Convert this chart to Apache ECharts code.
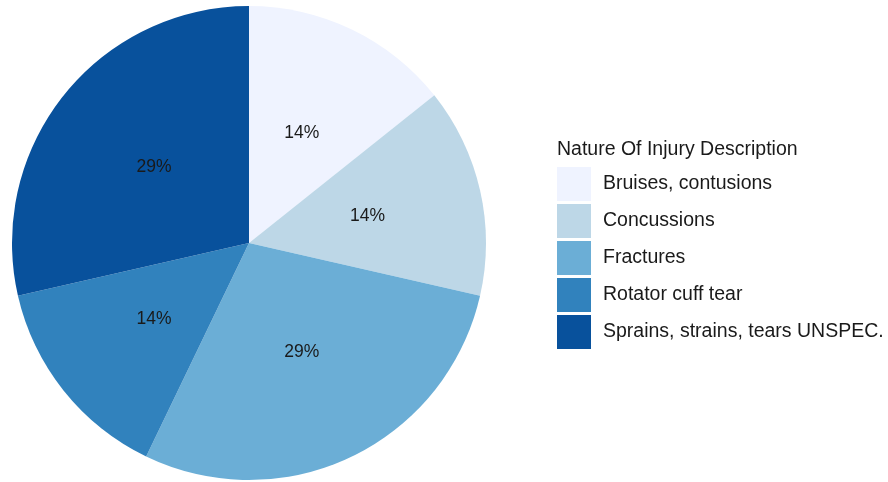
<!DOCTYPE html>
<html>
<head>
<meta charset="utf-8">
<script src="https://cdn.jsdelivr.net/npm/echarts@6/dist/echarts.min.js"></script>
<style>
  html, body { margin: 0; padding: 0; background: #fff; }
  #chart { width: 888px; height: 482px; }
</style>
</head>
<body>
<div id="chart"></div>
<script>
// data
var categories = ['Bruises, contusions', 'Concussions', 'Fractures', 'Rotator cuff tear', 'Sprains, strains, tears UNSPEC.'];
var counts = [1, 1, 2, 1, 2];
var colors = ['#eff3ff', '#bdd7e7', '#6baed6', '#3182bd', '#08519c'];
var legendTitle = 'Nature Of Injury Description';

var fontFamily = '"Liberation Sans", Arial, sans-serif';

var chart = echarts.init(document.getElementById('chart'), null, { renderer: 'canvas' });

var pieData = categories.map(function (name, i) {
    return { name: name, value: counts[i], itemStyle: { color: colors[i] } };
});

var option = {
    animation: false,
    title: {
        text: legendTitle,
        left: 552,
        top: 135,
        textStyle: { fontFamily: fontFamily, fontSize: 19.5, fontWeight: 'normal', color: '#1a1a1a' }
    },
    legend: {
        orient: 'vertical',
        left: 552,
        top: 162,
        itemWidth: 34,
        itemHeight: 34,
        itemGap: 3,
        icon: 'rect',
        data: categories,
        textStyle: { fontFamily: fontFamily, fontSize: 19.5, color: '#1a1a1a', padding: [3, 0, 0, 7] },
        selectedMode: false
    },
    series: [{
        type: 'pie',
        center: [249, 243],
        radius: [0, 237],
        startAngle: 90,
        clockwise: true,
        avoidLabelOverlap: false,
        data: pieData,
        itemStyle: { borderWidth: 0 },
        label: {
            show: true,
            position: 'inside',
            fontFamily: fontFamily,
            fontSize: 17.5,
            color: '#1a1a1a',
            formatter: function (p) { return Math.round(p.percent) + '%'; }
        },
        labelLine: { show: false },
        emphasis: { disabled: true }
    }]
};

chart.setOption(option);
</script>
</body>
</html>
